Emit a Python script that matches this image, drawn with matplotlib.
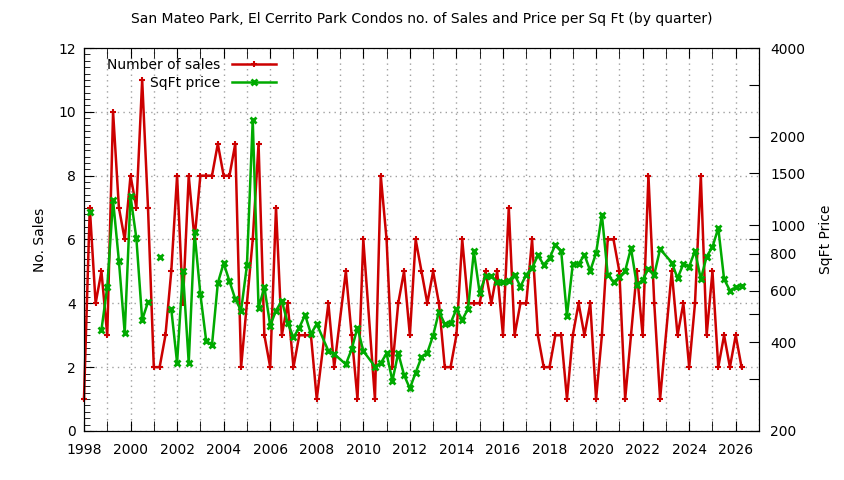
import numpy as np
import matplotlib.pyplot as plt
from matplotlib.ticker import MultipleLocator, FixedLocator, NullLocator

# quarterly data, 1998 Q1 .. 2026 Q2 (None = no data for that quarter)
start_year = 1998

sales = [
    1, 7, 4, 5,      # 1998
    3, 10, 7, 6,     # 1999
    8, 7, 11, 7,     # 2000
    2, 2, 3, 5,      # 2001
    8, 4, 8, 6,      # 2002
    8, 8, 8, 9,      # 2003
    8, 8, 9, 2,      # 2004
    4, 6, 9, 3,      # 2005
    2, 7, 3, 4,      # 2006
    2, 3, 3, 3,      # 2007
    1, None, 4, 2,   # 2008
    None, 5, 3, 1,   # 2009
    6, None, 1, 8,   # 2010
    6, 2, 4, 5,      # 2011
    3, 6, 5, 4,      # 2012
    5, 4, 2, 2,      # 2013
    3, 6, 4, 4,      # 2014
    4, 5, 4, 5,      # 2015
    3, 7, 3, 4,      # 2016
    4, 6, 3, 2,      # 2017
    2, 3, 3, 1,      # 2018
    3, 4, 3, 4,      # 2019
    1, 3, 6, 6,      # 2020
    5, 1, 3, 5,      # 2021
    3, 8, 4, 1,      # 2022
    None, 5, 3, 4,   # 2023
    2, 4, 8, 3,      # 2024
    5, 2, 3, 2,      # 2025
    3, 2,            # 2026
]

price = [
    None, 1109, None, 441,   # 1998
    617, 1215, 757, 430,     # 1999
    1253, 904, 477, 548,     # 2000
    None, 780, None, 519,    # 2001
    341, 700, 341, 945,      # 2002
    583, 405, 392, 636,      # 2003
    743, 646, 561, 513,      # 2004
    730, 2278, 523, 617,     # 2005
    456, 513, 554, 465,      # 2006
    416, 449, 496, 427,      # 2007
    462, None, 374, 365,     # 2008
    None, 337, 379, 449,     # 2009
    374, None, 331, 340,     # 2010
    367, 296, 368, 310,      # 2011
    279, 316, 356, 369,      # 2012
    422, 509, 462, 465,      # 2013
    519, 477, 520, 815,      # 2014
    588, 673, 673, 639,      # 2015
    639, 649, 679, 619,      # 2016
    679, 715, 790, 734,      # 2017
    773, 858, 819, 492,      # 2018
    738, 738, 794, 700,      # 2019
    804, 1086, 679, 641,     # 2020
    666, 700, 836, 627,      # 2021
    653, 711, 679, 830,      # 2022
    None, 747, 661, 738,     # 2023
    724, 819, 656, 783,      # 2024
    843, 978, 656, 600,      # 2025
    615, 623,                # 2026
]

title = 'San Mateo Park, El Cerrito Park Condos no. of Sales and Price per Sq Ft (by quarter)'

# quarters with no row at all are skipped (line joins across them),
# quarters with sales but no price leave a gap in the price line
t = []
s = []
p = []
for i in range(len(sales)):
    if sales[i] is None and price[i] is None:
        continue
    t.append(start_year + i / 4.0)
    s.append(np.nan if sales[i] is None else sales[i])
    p.append(np.nan if price[i] is None else price[i])

red = '#cc0000'
green = '#00aa00'

plt.rcParams['font.family'] = ['DejaVu Sans']
plt.rcParams['font.size'] = 10

fig = plt.figure(figsize=(8.44, 4.8), dpi=100)
ax = fig.add_axes([0.0995, 0.1021, 0.7998, 0.7979])
ax2 = ax.twinx()

l1, = ax.plot(t, s, color=red, lw=1.8, marker='+', ms=4, mew=1.5,
              label='Number of sales', clip_on=False)
l2, = ax2.plot(t, p, color=green, lw=1.8, marker='x', ms=4.5, mew=2,
               label='SqFt price')

ax.set_xlim(1998, 2027)
ax.set_ylim(0, 12)
ax.xaxis.set_major_locator(MultipleLocator(2))
ax.xaxis.set_minor_locator(MultipleLocator(1))
ax.yaxis.set_major_locator(MultipleLocator(2))
ax.yaxis.set_minor_locator(MultipleLocator(0.2))
ax.tick_params(which='both', direction='in', top=True, right=False)
ax.tick_params(which='major', length=7)
ax.tick_params(which='minor', length=4)
ax.tick_params(axis='x', which='minor', length=7)
ax.tick_params(axis='x', which='major', pad=9)
ax.tick_params(axis='y', which='major', pad=6)
ax.grid(True, which='major', axis='both', color='#a0a0a0', ls=(0, (1, 3)), lw=1)
ax.grid(True, which='minor', axis='x', color='#a0a0a0', ls=(0, (1, 3)), lw=1)

ax2.set_yscale('log')
ax2.set_ylim(200, 4000)
rticks = [200, 300, 400, 500, 600, 700, 800, 900, 1000, 1500, 2000, 3000, 4000]
rlabels = ['200', '', '400', '', '600', '', '800', '', '1000', '1500', '2000', '', '4000']
ax2.yaxis.set_major_locator(FixedLocator(rticks))
ax2.set_yticklabels(rlabels)
ax2.yaxis.set_minor_locator(NullLocator())
ax2.tick_params(direction='in', length=7, pad=8)

ax.set_ylabel('No. Sales', labelpad=8)
ax2.set_ylabel('SqFt Price', labelpad=10)
fig.suptitle(title, y=0.975, fontsize=10)

ax2.legend([l1, l2], ['Number of sales', 'SqFt price'], loc='upper left',
           bbox_to_anchor=(0.02, 1.0), frameon=False, markerfirst=False,
           handlelength=3.2, borderaxespad=0.3, labelspacing=0.3)

fig.savefig('out.png', dpi=100)
